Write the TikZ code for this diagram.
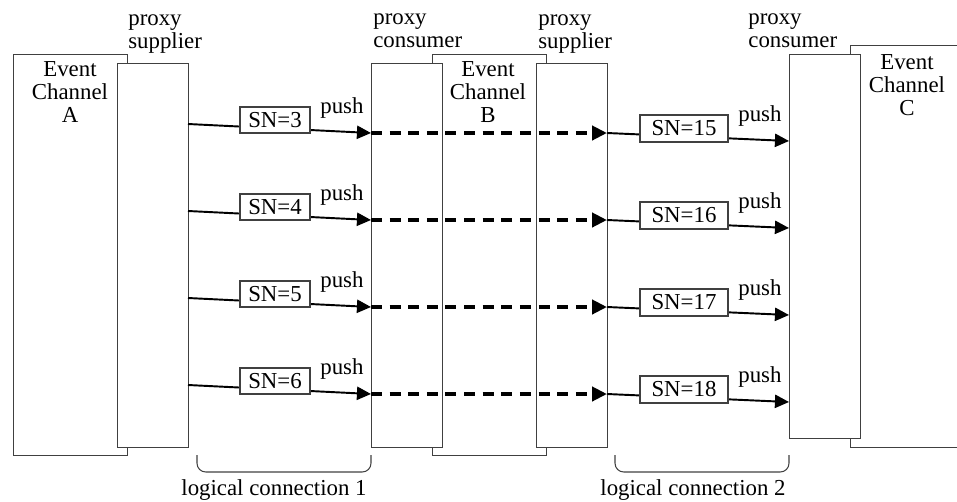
\documentclass[tikz,border=0pt]{standalone}
\usepackage{fontspec}
\setmainfont{Liberation Serif}
\usetikzlibrary{positioning, arrows.meta, calc}

\begin{document}
\begin{tikzpicture}[
        x=0.02cm, y=-0.02cm,
        every node/.style={font=\fontsize{13}{13}\selectfont},
        channel/.style={rectangle, draw=black!75, line width=0.6pt, fill=white, anchor=north west, minimum width=2.28cm, minimum height=8.02cm, inner sep=0pt},
        proxy/.style={channel, minimum width=1.42cm, minimum height=7.68cm},
        chantext/.style={anchor=base, align=center, inner sep=0pt},
        plabel/.style={anchor=base west, align=left, inner sep=0pt},
        snbox/.style={rectangle, draw=black!75, line width=0.6pt, fill=white, minimum width=1.4cm, minimum height=0.52cm, inner sep=0pt},
        pushline/.style={line width=1.1pt, -{Triangle[length=8pt, width=7.5pt]}},
        relay/.style={line width=2.7pt, dash pattern=on 6.2pt off 4.4pt, -{Triangle[length=8.5pt, width=8pt]}},
        bracket/.style={draw=black!75, line width=0.6pt, rounded corners=5pt}
    ]
    \useasboundingbox (0,0) rectangle (957,501);

    % event channels behind the proxies
    \node[channel] (chA) at (13,54) {};
    \node[channel] (chB) at (432,54) {};
    \node[channel, minimum height=8.04cm] (chC) at (850,45) {};
    \node[chantext] (chAtxt) at (70,122) {Event\\Channel\\A};
    \node[chantext] (chBtxt) at (488,122) {Event\\Channel\\B};
    \node[chantext] (chCtxt) at (907,115) {Event\\Channel\\C};

    \node[proxy] (psA) at (117,63) {};
    \node[proxy] (pcB) at (371,63) {};
    \node[proxy] (psB) at (536,63) {};
    \node[proxy] (pcC) at (789,54) {};

    \node[plabel] (psAlbl) at (128,48) {proxy\\supplier};
    \node[plabel] (pcBlbl) at (373,47) {proxy\\consumer};
    \node[plabel] (psBlbl) at (538,48) {proxy\\supplier};
    \node[plabel] (pcClbl) at (748,47) {proxy\\consumer};

    \foreach \r/\a/\c in {0/3/15, 1/4/16, 2/5/17, 3/6/18} {
        \coordinate (outA\r) at (188, 124+87*\r);
        \coordinate (inB\r) at (371, 133+87*\r);
        \coordinate (outB\r) at (607, 133+87*\r);
        \coordinate (inC\r) at (789, 141+87*\r);
        \draw[pushline] (outA\r) -- (inB\r);
        \draw[relay] (inB\r) -- (outB\r);
        \draw[pushline] (outB\r) -- (inC\r);
        \node[snbox] (snA\r) at (275, 120+87*\r) {SN=\a};
        \node[snbox, minimum width=1.76cm, minimum height=0.54cm] (snC\r) at (684, 128.5+87*\r) {SN=\c};
        \node[plabel] (pushA\r) at (320, 113+87*\r) {push};
        \node[plabel] (pushC\r) at (738, 121+87*\r) {push};
    }

    % logical connections
    \coordinate (lc1l) at (197,455);
    \coordinate (lc1r) at (371,455);
    \coordinate (lc2l) at (615,455);
    \coordinate (lc2r) at (789,455);
    \draw[bracket] (lc1l) -- (lc1l |- 0,472) -- (lc1r |- 0,472) -- (lc1r);
    \draw[bracket] (lc2l) -- (lc2l |- 0,472) -- (lc2r |- 0,472) -- (lc2r);
    \node[anchor=base, inner sep=0pt] (lc1) at (274,495) {logical connection 1};
    \node[anchor=base, inner sep=0pt] (lc2) at (693,495) {logical connection 2};
\end{tikzpicture}
\end{document}
